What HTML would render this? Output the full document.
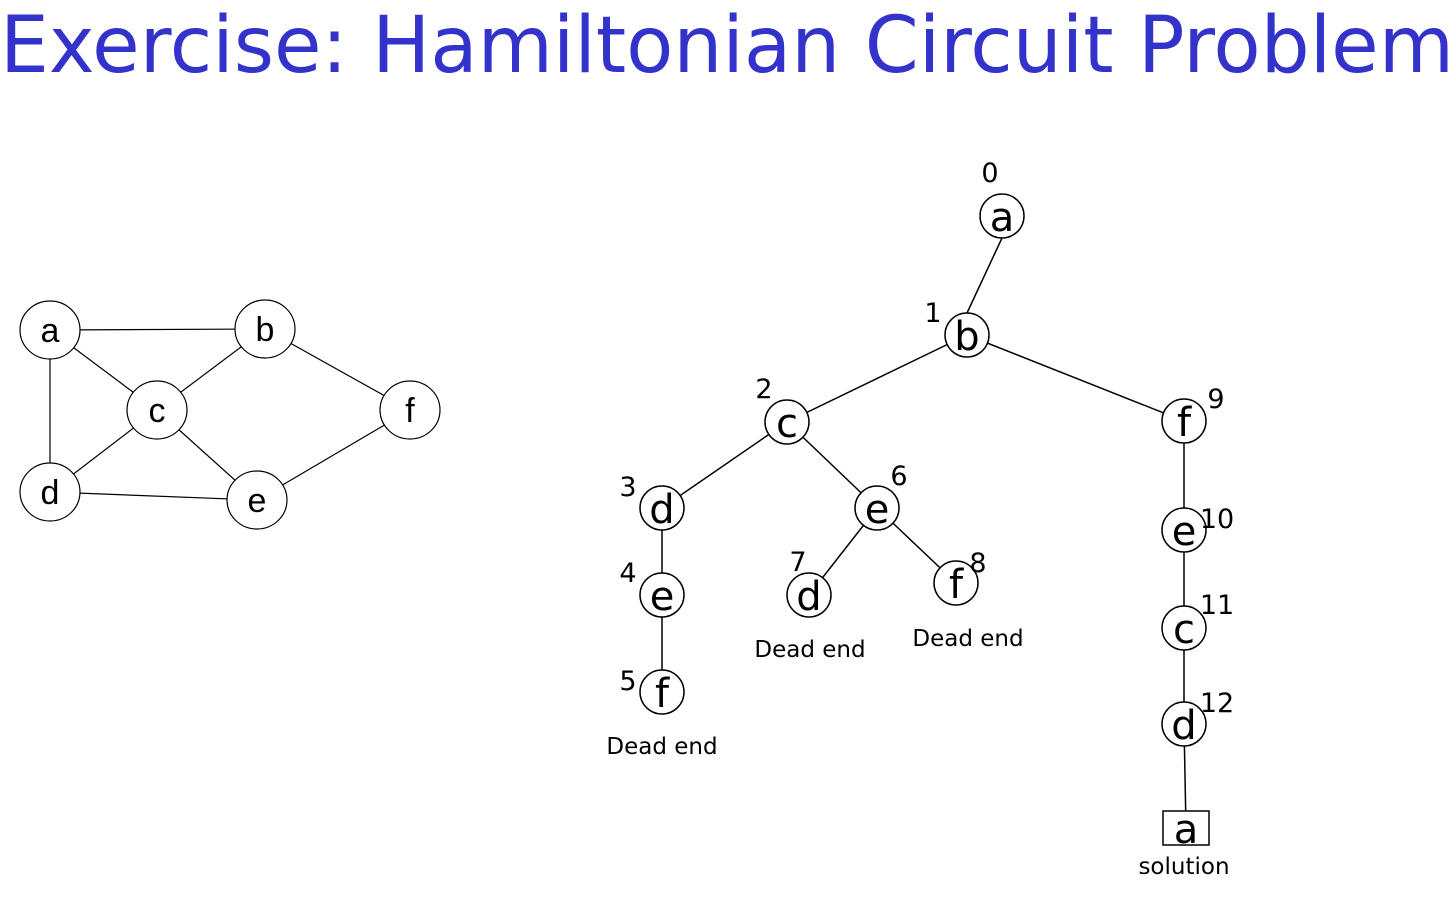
<!DOCTYPE html>
<html><head><meta charset="utf-8"><style>
html,body{margin:0;padding:0;background:#fff;width:1456px;height:902px;overflow:hidden}
svg{display:block}
.g text{font-family:"Liberation Sans",sans-serif;font-size:34px;text-anchor:middle}
.t text{font-family:"DejaVu Sans","Liberation Sans",sans-serif}
.n{font-size:40px;text-anchor:middle}
.l{font-size:27px;text-anchor:middle}
.dl{font-size:23px;text-anchor:middle}
</style></head><body>
<svg width="1456" height="902" viewBox="0 0 1456 902">
<text x="0" y="72" font-family="'DejaVu Sans','Liberation Sans',sans-serif" font-size="78" fill="#3333cc" textLength="1454" lengthAdjust="spacingAndGlyphs">Exercise: Hamiltonian Circuit Problem</text>
<g class="g" stroke-width="1.2" id="graph"></g>
<g class="t" id="tree"></g>
</svg>
<script>
const gNodes=[["a",50,330],["b",265,329],["c",157,410],["f",410,410],["d",50,492],["e",257,500]];
const gEdges=[["a","b"],["a","c"],["a","d"],["b","c"],["b","f"],["c","d"],["c","e"],["d","e"],["e","f"]];
const tNodes=[["0","a",1002,216,990,182,"c"],["1","b",967,335,933,322,"c"],["2","c",787,422,764,398,"c"],["3","d",662,508,628,496,"c"],["4","e",662,595,628,582,"c"],["5","f",662,692,628,690,"c"],["6","e",877,508,899,485,"c"],["7","d",809,595,798,571,"c"],["8","f",956,583,978,572,"c"],["9","f",1184,421,1216,408,"c"],["10","e",1184,530,1217,528,"c"],["11","c",1184,628,1217,614,"c"],["12","d",1184,724,1217,712,"c"],["13","a",1186,828,0,0,"s"]];
const tEdges=[["0","1"],["1","2"],["1","9"],["2","3"],["2","6"],["3","4"],["4","5"],["6","7"],["6","8"],["9","10"],["10","11"],["11","12"],["12","13"]];
const tLabels=[["Dead end",662,754],["Dead end",810,657],["Dead end",968,646],["solution",1184,874]];
const NS="http://www.w3.org/2000/svg";
function mk(t,a,p){const e=document.createElementNS(NS,t);for(const k in a)e.setAttribute(k,a[k]);p.appendChild(e);return e;}
const G=document.getElementById("graph"),T=document.getElementById("tree");
const gm={};gNodes.forEach(n=>gm[n[0]]=n);
gEdges.forEach(e=>{const a=gm[e[0]],b=gm[e[1]];const l=mk("line",{x1:a[1],y1:a[2],x2:b[1],y2:b[2],stroke:"#000","stroke-width":1.2},G);

});
gNodes.forEach(n=>{const c=mk("ellipse",{cx:n[1],cy:n[2],rx:30,ry:29,fill:"#fff",stroke:"#000","stroke-width":1.2},G);


const t=mk("text",{x:n[1],y:n[2]+12},G);t.textContent=n[0];

});
const tm={};tNodes.forEach(n=>tm[n[0]]=n);
tEdges.forEach(e=>{const a=tm[e[0]],b=tm[e[1]];
let x1=a[2],y1=a[3],x2=b[2],y2=b[3];
if(e[0]==="0"){y1+=22;y2-=22;}
const l=mk("line",{x1:x1,y1:y1,x2:x2,y2:y2,stroke:"#000","stroke-width":1.5},T);

});
tNodes.forEach(n=>{let s;
if(n[6]==="s"){s=mk("rect",{x:n[2]-23,y:n[3]-17,width:46,height:34,fill:"#fff",stroke:"#000","stroke-width":1.5},T);}
else{s=mk("circle",{cx:n[2],cy:n[3],r:22,fill:"#fff",stroke:"#000","stroke-width":1.5},T);}


const t=mk("text",{x:n[2],y:n[3]+15,class:"n"},T);t.textContent=n[1];


if(n[6]!=="s"){const o=mk("text",{x:n[4],y:n[5],class:"l"},T);o.textContent=n[0];

}});
tLabels.forEach((d,i)=>{const t=mk("text",{x:d[1],y:d[2],class:"dl"},T);t.textContent=d[0];

});
</script>
</body></html>
